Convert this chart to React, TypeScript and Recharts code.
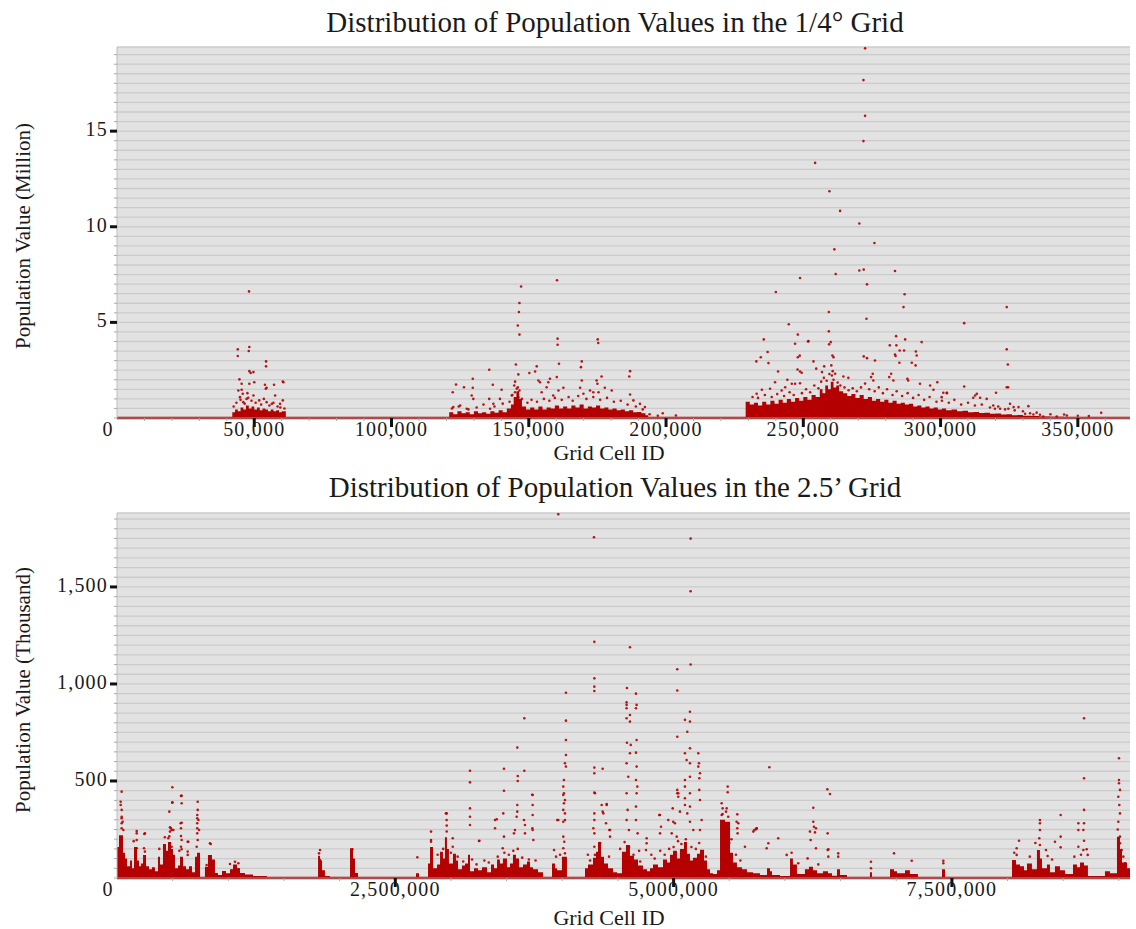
import React from 'react';
import { ComposedChart, Area, Scatter, XAxis, YAxis, CartesianGrid, ReferenceLine } from 'recharts';

const FONT = "'Liberation Serif', 'Times New Roman', serif";
const RED = '#b40000';
const INK = '#1a1a1a';

// ---------- tick labels ----------
const TOP_X_MAJOR = [0, 50000, 100000, 150000, 200000, 250000, 300000, 350000];
const TOP_Y_LABELED = [5, 10, 15];
const BOT_X_MAJOR = [0, 2500000, 5000000, 7500000];
const BOT_Y_LABELED = [500, 1000, 1500];

function steps(a: number, b: number, s: number) {
  const out: number[] = [];
  for (let v = a; v <= b + 1e-9; v += s) out.push(Math.round(v * 100) / 100);
  return out;
}
const TOP_X_TICKS = steps(0, 360000, 10000);
const TOP_Y_TICKS = steps(0, 19, 0.5);
const BOT_X_TICKS = steps(0, 9000000, 500000);
const BOT_Y_TICKS = steps(0, 1850, 50);

// ---------- 1/4 degree grid (values in million) ----------
// dense mass: [cell id, upper edge of the dense band]
const TOP_DENSE: [number, number][] = [
  [0, 0], [42000, 0.3], [43000, 0.45], [44000, 0.35], [45000, 0.55], [46000, 0.45], [47000, 0.65], [48000, 0.5],
  [49000, 0.6], [50000, 0.45], [51000, 0.55], [52000, 0.4], [53000, 0.5], [54000, 0.45], [55000, 0.35], [56000, 0.45],
  [57000, 0.35], [58000, 0.4], [59000, 0.3], [60000, 0.35], [61500, 0],
  [121000, 0.3], [122500, 0.2], [124000, 0.35], [125500, 0.25], [127000, 0.3], [128500, 0.2], [130000, 0.35],
  [131500, 0.25], [133000, 0.3], [134500, 0.22], [136000, 0.35], [137500, 0.28], [139000, 0.4], [140500, 0.3],
  [142000, 0.5], [143500, 0.7], [144500, 1.1], [145500, 1.4], [146500, 1.0], [147500, 0.6], [149000, 0.45],
  [150500, 0.55], [152000, 0.45], [153500, 0.6], [155000, 0.45], [156500, 0.55], [158000, 0.5], [159500, 0.65],
  [161000, 0.5], [162500, 0.6], [164000, 0.5], [165500, 0.65], [167000, 0.55], [168500, 0.7], [170000, 0.5],
  [171500, 0.6], [173000, 0.55], [174500, 0.65], [176000, 0.5], [177500, 0.55], [179000, 0.45], [180500, 0.5],
  [182000, 0.4], [183500, 0.45], [185000, 0.35], [186500, 0.4], [188000, 0.3], [189500, 0.32], [191000, 0.25],
  [192500, 0.15], [193500, 0.05], [200000, 0.03], [205000, 0],
  [229000, 0.85], [230500, 0.7], [232000, 0.8], [233500, 0.65], [235000, 0.85], [236500, 0.7], [238000, 0.9],
  [239500, 0.75], [241000, 0.95], [242500, 0.8], [244000, 1.0], [245500, 0.85], [247000, 1.05], [248500, 0.9],
  [250000, 1.1], [251500, 0.95], [253000, 1.2], [254500, 1.1], [256000, 1.5], [257000, 1.3], [258000, 1.7],
  [259000, 1.5], [260000, 1.9], [261000, 1.6], [262000, 1.7], [263000, 1.4], [264500, 1.3], [266000, 1.15],
  [267500, 1.25], [269000, 1.05], [270500, 1.2], [272000, 1.0], [273500, 1.1], [275000, 0.9], [276500, 1.0],
  [278000, 0.85], [279500, 0.95], [281000, 0.8], [282500, 0.9], [284000, 0.75], [285500, 0.8], [287000, 0.7],
  [288500, 0.75], [290000, 0.6], [291500, 0.65], [293000, 0.55], [294500, 0.6], [296000, 0.5], [297500, 0.55],
  [299000, 0.45], [300500, 0.5], [302000, 0.4], [304000, 0.45], [306000, 0.35], [308000, 0.38], [310000, 0.3],
  [312000, 0.32], [314000, 0.26], [316000, 0.28], [318000, 0.22], [320000, 0.24], [322000, 0.18], [324000, 0.2],
  [326000, 0.15], [328000, 0.16], [330000, 0.12], [333000, 0.1], [336000, 0.08], [340000, 0.06], [345000, 0.05],
  [350000, 0.04], [355000, 0.03], [358000, 0], [369000, 0],
];
// individual cells above the dense band
const TOP_CELLS: [number, number][] = [
  [48100, 6.62], [44000, 3.59], [44000, 3.24], [48200, 3.71], [48000, 3.5], [54300, 2.96], [54300, 2.7], [48200, 2.45],
  [49700, 2.4], [48700, 2.35], [44600, 2.02], [45400, 1.79], [50000, 1.87], [48200, 1.79], [60400, 1.91], [60600, 1.87],
  [57200, 1.74], [54500, 1.58], [53900, 1.74], [54200, 1.53], [44200, 1.44], [45400, 1.48], [45800, 1.27], [44800, 1.09],
  [47200, 1.0], [47800, 1.06], [49700, 1.18], [51800, 0.92], [54500, 0.83], [56400, 0.74], [57600, 1.18], [60400, 0.92],
  [59400, 0.74], [46000, 0.83],
  [42500, 0.6], [43500, 0.8], [45000, 0.95], [46500, 0.75], [47500, 1.3], [49000, 0.9], [50500, 0.8], [52500, 0.7],
  [53500, 1.0], [55500, 0.65], [57000, 0.8], [58500, 0.6], [59500, 0.55], [61000, 0.5],
  [147200, 6.88], [160300, 7.2], [146600, 6.01], [146400, 5.54], [146000, 4.84], [146600, 4.36], [160500, 4.15],
  [160500, 3.83], [175100, 4.11], [175300, 3.92], [161000, 2.84], [169300, 2.96], [169000, 2.66], [145300, 2.8],
  [146200, 2.28], [135600, 2.52], [150200, 2.35], [152900, 2.7], [152300, 2.43], [186900, 2.45], [186600, 2.17],
  [129600, 2.05], [129600, 1.58], [129200, 1.18], [129800, 1.0], [123500, 1.75], [122300, 1.35], [126400, 1.61],
  [136900, 1.74], [140100, 1.48], [135600, 1.0], [153500, 1.96], [154100, 1.87], [157700, 2.05], [157100, 1.87],
  [156500, 1.61], [160200, 2.14], [162600, 1.58], [160800, 1.44], [158900, 1.18], [154700, 1.35], [169300, 1.96],
  [168700, 1.58], [169900, 1.27], [174700, 1.96], [175000, 1.79], [176500, 2.17], [175400, 1.35], [173500, 1.35],
  [172300, 1.44], [177700, 1.58], [180200, 1.44], [186900, 1.23], [188100, 0.92], [190500, 0.74], [192300, 0.57],
  [198800, 0.25], [203600, 0.13], [144700, 1.7], [145600, 1.53], [146600, 1.44], [145000, 1.35], [143800, 1.18],
  [146200, 1.09], [135900, 0.48], [139500, 1.0], [137100, 0.74], [122500, 0.57], [125000, 0.65], [127400, 0.48],
  [122000, 0.5], [124500, 0.6], [128000, 0.45], [131000, 0.55], [133500, 0.7], [137500, 0.6], [140500, 0.75],
  [143000, 0.85], [144000, 1.2], [145000, 1.9], [146000, 1.6], [147500, 1.0], [149500, 0.8], [151000, 0.95],
  [153000, 0.85], [155500, 1.0], [157500, 0.9], [159500, 1.05], [162000, 0.95], [164500, 1.1], [166000, 0.9],
  [168000, 1.15], [171000, 1.0], [173500, 1.1], [176000, 0.95], [178500, 1.05], [181000, 0.85], [183500, 0.9],
  [186000, 0.7], [189000, 0.6], [191500, 0.45], [194000, 0.2], [197000, 0.12],
  [272500, 19.33], [271900, 17.67], [272500, 15.8], [271900, 14.48], [254300, 13.34], [259500, 11.86], [263400, 10.83],
  [270400, 10.17], [275900, 9.15], [261300, 8.82], [270400, 7.71], [272000, 7.76], [283400, 7.69], [261800, 7.53],
  [248800, 7.32], [273200, 6.99], [240000, 6.59], [286900, 6.47], [286500, 5.8], [308600, 4.96], [259300, 5.54],
  [273000, 5.19], [244700, 4.9], [259300, 4.53], [248000, 4.36], [235600, 4.11], [283800, 4.28], [287100, 4.11],
  [251700, 4.0], [251900, 4.02], [247000, 3.88], [260000, 3.97], [293100, 3.97], [259400, 3.85], [281500, 3.8],
  [283900, 3.8], [285100, 3.53], [286700, 3.53], [237000, 3.45], [234500, 3.18], [232900, 2.96], [237300, 2.87],
  [248000, 3.18], [248700, 3.26], [253700, 2.96], [260600, 3.27], [261000, 3.18], [272000, 3.22], [273200, 3.13],
  [276100, 3.01], [283400, 3.32], [283600, 3.24], [285000, 2.89], [291300, 3.27], [291000, 3.48], [289500, 2.89],
  [290900, 2.75], [240800, 2.43], [247900, 2.54], [248800, 2.43], [249400, 2.37], [254700, 2.58], [257600, 2.7],
  [256800, 2.4], [260200, 2.75], [260700, 2.45], [261600, 2.31], [260400, 2.22], [264600, 2.17], [266400, 2.1],
  [275300, 2.31], [274700, 2.14], [275500, 1.96], [282000, 2.31], [281300, 2.14], [282800, 1.96], [287900, 2.05],
  [288200, 1.96], [298800, 1.87], [308600, 1.65], [244200, 2.0], [239700, 1.87], [243400, 1.61], [245800, 1.79],
  [247000, 1.79], [248800, 1.82], [233000, 1.27], [234900, 1.48], [237900, 1.53], [242100, 1.44], [292500, 1.79],
  [296200, 1.7], [297400, 1.48], [302300, 1.3], [313200, 1.27], [320200, 1.32],
  [231500, 1.1], [233500, 1.05], [236000, 1.2], [238500, 1.1], [240500, 1.25], [243000, 1.15], [245000, 1.35],
  [246500, 1.2], [249500, 1.3], [251000, 1.5], [252500, 1.35], [254000, 1.7], [255500, 1.55], [256500, 1.9],
  [257500, 2.1], [258500, 1.95], [259500, 2.3], [261000, 2.0], [262500, 1.85], [263500, 1.7], [265000, 1.6],
  [266500, 1.45], [268000, 1.55], [269500, 1.4], [271000, 1.6], [272500, 1.8], [274000, 1.5], [276000, 1.4],
  [277500, 1.6], [279000, 1.3], [280500, 1.5], [282500, 1.2], [284000, 1.4], [286000, 1.15], [288000, 1.3],
  [290000, 1.05], [292000, 1.2], [294000, 0.95], [296000, 1.1], [298500, 0.85], [300500, 0.9], [303000, 0.8],
  [305000, 0.95], [307500, 0.7], [310000, 0.8], [312500, 0.65], [315000, 0.7], [318000, 0.55], [321000, 0.6],
  [323500, 0.45], [327000, 0.4], [330000, 0.35], [335000, 0.28], [340000, 0.2], [345000, 0.18], [350000, 0.12],
  [354000, 0.1],
  [324100, 5.8], [324100, 3.59], [324500, 2.8], [324100, 1.61], [324600, 1.61], [301000, 1.32], [302300, 1.32],
  [300400, 1.09], [312600, 1.18], [311900, 1.06], [314400, 1.06], [316800, 1.0], [332000, 0.62], [328400, 0.57],
  [326600, 0.57], [325300, 0.74], [324700, 0.48], [319200, 0.65], [319800, 0.48], [321700, 0.48], [358500, 0.27],
  [346000, 0.13], [342300, 0.08], [336200, 0.17], [337400, 0.08], [332600, 0.25], [333800, 0.18], [330800, 0.22],
];

// ---------- 2.5 minute grid (values in thousand) ----------
const BOT_DENSE: [number, number][] = [
  [0, 160], [18000, 220], [54000, 130], [72000, 100], [90000, 60], [117000, 90], [135000, 50], [153000, 160],
  [180000, 90], [198000, 60], [216000, 75], [234000, 119], [261000, 60], [287000, 45], [314000, 55], [341000, 35],
  [368000, 110], [386000, 70], [413000, 175], [440000, 140], [458000, 185], [485000, 150], [503000, 120],
  [521000, 50], [548000, 65], [566000, 110], [593000, 60], [620000, 45], [647000, 60], [674000, 30], [701000, 110],
  [719000, 130], [746000, 3], [790000, 58], [817000, 119], [853000, 95], [880000, 26], [907000, 15], [943000, 36],
  [979000, 25], [1015000, 45], [1042000, 70], [1078000, 50], [1105000, 26], [1150000, 18], [1222000, 10],
  [1347000, 5], [1491000, 2], [1806000, 115], [1824000, 90], [1842000, 40], [1868000, 10], [1913000, 3],
  [2093000, 153], [2120000, 100], [2138000, 26], [2165000, 2], [2686000, 25], [2713000, 3],
  [2794000, 75], [2812000, 160], [2839000, 50], [2875000, 70], [2902000, 135], [2928000, 100], [2946000, 210],
  [2964000, 150], [2982000, 75], [3018000, 125], [3045000, 90], [3063000, 45], [3099000, 65], [3126000, 75],
  [3153000, 120], [3171000, 35], [3207000, 50], [3243000, 40], [3279000, 55], [3324000, 30], [3360000, 70],
  [3387000, 50], [3414000, 95], [3440000, 75], [3467000, 100], [3503000, 55], [3530000, 75], [3557000, 120],
  [3584000, 100], [3611000, 55], [3647000, 70], [3683000, 85], [3710000, 55], [3737000, 45], [3782000, 30],
  [3827000, 3], [3908000, 75], [3935000, 50], [3953000, 40], [3997000, 110], [4042000, 3],
  [4204000, 50], [4231000, 70], [4276000, 105], [4303000, 135], [4321000, 185], [4348000, 110], [4375000, 75],
  [4411000, 50], [4456000, 30], [4492000, 25], [4536000, 135], [4572000, 170], [4608000, 115], [4644000, 95],
  [4680000, 65], [4725000, 45], [4761000, 35], [4788000, 50], [4815000, 70], [4860000, 55], [4905000, 95],
  [4941000, 80], [4968000, 120], [4995000, 140], [5030000, 100], [5057000, 150], [5093000, 185], [5120000, 125],
  [5147000, 90], [5174000, 105], [5210000, 125], [5237000, 145], [5273000, 90], [5300000, 45], [5327000, 25],
  [5354000, 20], [5390000, 40], [5417000, 300], [5462000, 290], [5507000, 130], [5534000, 80], [5569000, 55],
  [5614000, 45], [5659000, 30], [5713000, 25], [5776000, 15], [5839000, 50], [5866000, 35], [5884000, 15],
  [5956000, 10], [6046000, 101], [6072000, 70], [6108000, 20], [6180000, 45], [6216000, 58], [6252000, 40],
  [6288000, 25], [6342000, 35], [6387000, 25], [6423000, 12], [6468000, 45], [6495000, 15], [6558000, 4],
  [6764000, 30], [6782000, 3], [6944000, 45], [6980000, 35], [7007000, 25], [7079000, 40], [7123000, 20],
  [7195000, 4], [7411000, 45], [7438000, 3], [8040000, 93], [8076000, 70], [8112000, 60], [8148000, 40],
  [8175000, 75], [8219000, 45], [8264000, 144], [8291000, 100], [8309000, 50], [8354000, 70], [8381000, 30],
  [8426000, 60], [8471000, 40], [8516000, 20], [8588000, 70], [8624000, 55], [8651000, 80], [8687000, 65],
  [8722000, 10], [8875000, 35], [8920000, 25], [8983000, 213], [9010000, 150], [9028000, 80], [9073000, 50],
  [9100000, 50],
];
const BOT_CELLS: [number, number][] = [
  [3964000, 1875], [4285000, 1756], [5153000, 1749], [5153000, 1478], [4288000, 1217], [4608000, 1189], [5033000, 1076],
  [5153000, 1100], [4288000, 1029], [4288000, 986], [4288000, 964], [4033000, 955], [5033000, 966], [4581000, 979],
  [4662000, 950], [4578000, 906], [4578000, 892], [4578000, 875], [4668000, 892], [4662000, 875], [3659000, 823],
  [4033000, 811], [5860000, 571], [4578000, 823], [4608000, 840], [4608000, 806], [5147000, 857], [5147000, 806],
  [5102000, 815], [5123000, 754], [5033000, 728], [3596000, 672], [4033000, 711], [4581000, 697], [4615000, 686],
  [4668000, 711], [4662000, 646], [5102000, 643], [5117000, 608], [5147000, 591], [5147000, 669], [3476000, 563],
  [3171000, 553], [3659000, 553], [4288000, 569], [4288000, 540], [4363000, 563], [5222000, 643], [5228000, 591],
  [5222000, 574], [5237000, 540], [5231000, 514], [4033000, 634], [4024000, 591], [4033000, 574], [4015000, 505],
  [4578000, 591], [4608000, 643], [4593000, 522], [4668000, 574], [4662000, 505], [4674000, 471], [3171000, 493],
  [3600000, 500], [3600000, 526], [3476000, 450], [3730000, 429], [4288000, 440], [5033000, 437], [5033000, 454],
  [5102000, 505], [5102000, 471], [5147000, 522], [5147000, 437], [5486000, 471], [5486000, 442], [5432000, 385],
  [5477000, 359], [5572000, 328], [5746000, 256], [5716000, 239], [5940000, 205], [4878000, 325], [4992000, 359],
  [5057000, 342], [5042000, 437], [5042000, 419], [4354000, 376], [4363000, 342], [4399000, 381], [4393000, 282],
  [4429000, 247], [2955000, 333], [2961000, 299], [2821000, 239], [2821000, 196], [3171000, 359], [3171000, 316],
  [3171000, 273], [3411000, 303], [3470000, 333], [3396000, 256], [3255000, 192], [3596000, 376], [3596000, 342],
  [3590000, 316], [3575000, 247], [3566000, 230], [3656000, 299], [3665000, 273], [3734000, 376], [3734000, 325],
  [3731000, 256], [4015000, 437], [4024000, 402], [4009000, 351], [4024000, 299], [3964000, 299], [4009000, 213],
  [4288000, 333], [4288000, 299], [4279000, 256], [4578000, 437], [4587000, 351], [4578000, 299], [4599000, 247],
  [4668000, 437], [4662000, 368], [4662000, 299], [4677000, 230], [5102000, 411], [5102000, 376], [5123000, 333],
  [5147000, 368], [5147000, 290], [5177000, 247], [5231000, 454], [5237000, 402], [5252000, 299], [5237000, 247],
  [4997000, 290], [4983000, 230], [5028000, 213], [4871000, 325], [5491000, 316], [5432000, 325], [5566000, 290],
  [5572000, 256], [5725000, 247], [5746000, 256],
  [42000, 445], [33000, 393], [33000, 376], [42000, 351], [42000, 316], [51000, 290], [57000, 247], [497000, 468],
  [497000, 390], [470000, 342], [581000, 424], [581000, 385], [581000, 285], [575000, 256], [485000, 256],
  [476000, 239], [506000, 247], [725000, 393], [725000, 351], [731000, 299], [737000, 247], [725000, 196],
  [716000, 161], [177000, 242], [245000, 227], [177000, 196], [243000, 153], [842000, 175], [641000, 187],
  [581000, 196], [581000, 148], [1824000, 144], [2114000, 148],
  [42000, 308], [42000, 282], [42000, 256], [177000, 230], [251000, 230], [251000, 136], [177000, 153], [575000, 423],
  [497000, 388], [572000, 282], [476000, 261], [491000, 247], [461000, 205], [476000, 179], [491000, 161],
  [635000, 187], [635000, 136], [635000, 119], [575000, 216], [575000, 161], [721000, 325], [721000, 308],
  [721000, 282], [721000, 256], [721000, 230], [835000, 179], [805000, 67], [1015000, 72], [1060000, 84],
  [1090000, 76], [1090000, 45], [1815000, 127], [1824000, 93], [2108000, 127], [2114000, 93], [2123000, 67],
  [8687000, 823], [9001000, 617], [8687000, 514], [9001000, 505], [9001000, 488], [9010000, 454], [8995000, 419],
  [9004000, 376], [9010000, 333], [8995000, 290], [8687000, 351], [8687000, 282], [8636000, 282], [8636000, 247],
  [8681000, 247], [8687000, 192], [6381000, 457], [6405000, 433], [6255000, 362], [6255000, 290], [6261000, 264],
  [6279000, 256], [6225000, 239], [6270000, 235], [6231000, 196], [6279000, 153], [6384000, 230], [6390000, 148],
  [8291000, 299], [8291000, 282], [8291000, 247], [8285000, 205], [8291000, 170], [8477000, 325], [8477000, 213],
  [8477000, 158], [8426000, 187], [8345000, 144], [8360000, 113], [8103000, 192], [8082000, 153], [8082000, 119],
  [8636000, 161], [8681000, 144], [8711000, 148], [8720000, 119], [6479000, 127], [6479000, 110], [6384000, 144],
  [6390000, 110], [6204000, 101], [6980000, 127], [6773000, 84], [6773000, 50], [7139000, 89], [7423000, 89],
  [7423000, 76], [9010000, 213], [9010000, 179], [9025000, 144], [9040000, 110], [9055000, 76],
  [2698000, 107], [2821000, 187], [2962000, 333], [2962000, 270], [2962000, 240], [3016000, 205], [3016000, 161],
  [3252000, 191], [3396000, 299], [3476000, 213], [3465000, 153], [3665000, 230], [3734000, 428], [3734000, 247],
  [3740000, 196], [3926000, 144], [3944000, 110], [3955000, 299], [4009000, 471], [4009000, 428], [4015000, 385],
  [4024000, 333], [4009000, 290], [4018000, 187], [4009000, 153], [4024000, 127], [4294000, 437], [4288000, 230],
  [4288000, 161], [4294000, 119], [4369000, 333], [4399000, 376], [4423000, 247], [4429000, 213], [4758000, 205],
  [4758000, 179], [4752000, 144], [4887000, 264], [4878000, 230], [4952000, 299], [5012000, 282], [5441000, 359],
  [5471000, 342], [5581000, 282], [5575000, 230], [5641000, 161], [5740000, 251], [5851000, 179], [5836000, 153],
  [6016000, 119], [6120000, 76],
  [2930000, 150], [3000000, 130], [3110000, 85], [3230000, 70], [3300000, 90], [3420000, 110], [3520000, 120],
  [3560000, 140], [3640000, 105], [3700000, 95], [3980000, 120], [4250000, 90], [4340000, 180], [4520000, 150],
  [4560000, 185], [4640000, 120], [4700000, 85], [4830000, 100], [4920000, 120], [4960000, 150], [5000000, 160],
  [5070000, 175], [5110000, 200], [5200000, 150], [5260000, 130], [5440000, 330], [5500000, 180], [5600000, 90],
  [6060000, 130], [6300000, 70], [8060000, 130], [8200000, 110], [8250000, 180], [8400000, 95], [8600000, 110],
  [8660000, 120], [8990000, 250], [380000, 150], [430000, 210], [470000, 215], [560000, 140], [150000, 190],
  [2880000, 120], [3060000, 110], [3190000, 95], [3340000, 80], [3480000, 130], [3600000, 150], [3760000, 90],
  [4230000, 120], [4420000, 110], [4600000, 160], [4690000, 140], [4800000, 120], [4880000, 140], [5040000, 190],
  [5160000, 160], [5230000, 180], [5290000, 110], [5520000, 200], [5560000, 120],
];

const toRows = (arr: [number, number][]) => arr.map(([x, y]) => ({ x, y }));

const fmt = (v: number) => v.toLocaleString('en-US');

const Dot = (p: any) => <circle cx={p.cx} cy={p.cy} r={1.3} fill={RED} fillOpacity={0.9} />;

function makeXTick(major: number[]) {
  return (p: any) => {
    const v = p.payload.value;
    const isMajor = major.includes(v);
    return (
      <g>
        {v !== 0 && (
          <line x1={p.x} x2={p.x} y1={p.y} y2={p.y + (isMajor ? 9 : 3)} stroke={isMajor ? '#111' : '#a8a8a8'} strokeWidth={isMajor ? 3 : 1} />
        )}
        {isMajor && (
          <text x={p.x + (v === 0 ? -9 : 0)} y={p.y + 18} textAnchor="middle" fontFamily={FONT} fontSize={20} letterSpacing={1.2} fill={INK}>
            {fmt(v)}
          </text>
        )}
      </g>
    );
  };
}

function makeYTick(labeled: number[]) {
  return (p: any) => {
    const v = p.payload.value;
    const isMajor = labeled.includes(v);
    return (
      <g>
        <line x1={p.x - (isMajor ? 7 : 3)} x2={p.x} y1={p.y} y2={p.y} stroke={isMajor ? '#111' : '#a8a8a8'} strokeWidth={isMajor ? 3 : 1} />
        {isMajor && (
          <text x={p.x - 9} y={p.y + 5} textAnchor="end" fontFamily={FONT} fontSize={20} letterSpacing={1.2} fill={INK}>
            {fmt(v)}
          </text>
        )}
      </g>
    );
  };
}

type PanelProps = {
  top: number; height: number; marginTop: number; xAxisHeight: number;
  dense: [number, number][]; cells: [number, number][];
  xMax: number; yMax: number; xTicks: number[]; xMajor: number[]; yTicks: number[]; yLabeled: number[];
};

function Panel(pr: PanelProps) {
  return (
    <div style={{ position: 'absolute', left: 0, top: pr.top, width: 1136, height: pr.height }}>
      <ComposedChart width={1136} height={pr.height} data={toRows(pr.dense)} margin={{ top: pr.marginTop, right: 6, bottom: 0, left: 0 }}>
        <CartesianGrid vertical={false} stroke="#cbcbcb" strokeWidth={1.3} fill="#e2e2e2" />
        <XAxis dataKey="x" type="number" domain={[0, pr.xMax]} ticks={pr.xTicks} interval={0} allowDataOverflow
          tickSize={0} tickMargin={0} tickLine={false} axisLine={{ stroke: '#9a9a9a' }} height={pr.xAxisHeight} tick={makeXTick(pr.xMajor)} />
        <YAxis type="number" domain={[0, pr.yMax]} ticks={pr.yTicks} interval={0} allowDataOverflow width={117}
          tickSize={0} tickMargin={0} tickLine={false} axisLine={{ stroke: '#bdbdbd' }} tick={makeYTick(pr.yLabeled)} />
        <Area dataKey="y" type="stepAfter" fill={RED} fillOpacity={1} stroke="none" baseValue={0} dot={false} activeDot={false} isAnimationActive={false} />
        <Scatter data={toRows(pr.cells)} dataKey="y" shape={Dot} isAnimationActive={false} />
        <ReferenceLine y={0} stroke={RED} strokeWidth={2.5} />
      </ComposedChart>
    </div>
  );
}

export default function App() {
  return (
    <div style={{ position: 'absolute', left: 0, top: 0, width: 1136, height: 929, background: '#fff' }}>
      <Panel top={0} height={465} marginTop={47} xAxisHeight={47} dense={TOP_DENSE} cells={TOP_CELLS}
        xMax={369000} yMax={19.4} xTicks={TOP_X_TICKS} xMajor={TOP_X_MAJOR} yTicks={TOP_Y_TICKS} yLabeled={TOP_Y_LABELED} />
      <Panel top={465} height={464} marginTop={48} xAxisHeight={51} dense={BOT_DENSE} cells={BOT_CELLS}
        xMax={9100000} yMax={1881} xTicks={BOT_X_TICKS} xMajor={BOT_X_MAJOR} yTicks={BOT_Y_TICKS} yLabeled={BOT_Y_LABELED} />
      <svg width={1136} height={929} style={{ position: 'absolute', left: 0, top: 0, pointerEvents: 'none' }}>
        <g fontFamily={FONT} fill={INK}>
          <text x={615} y={32} fontSize={29} textAnchor="middle">Distribution of Population Values in the 1/4° Grid</text>
          <text x={615} y={497} fontSize={29} textAnchor="middle">Distribution of Population Values in the 2.5’ Grid</text>
          <text x={609} y={460} fontSize={22} textAnchor="middle">Grid Cell ID</text>
          <text x={609} y={925} fontSize={22} textAnchor="middle">Grid Cell ID</text>
          <text transform="translate(30,236) rotate(-90)" fontSize={21} textAnchor="middle">Population Value (Million)</text>
          <text transform="translate(30,690) rotate(-90)" fontSize={21} textAnchor="middle">Population Value (Thousand)</text>
        </g>
      </svg>
    </div>
  );
}
